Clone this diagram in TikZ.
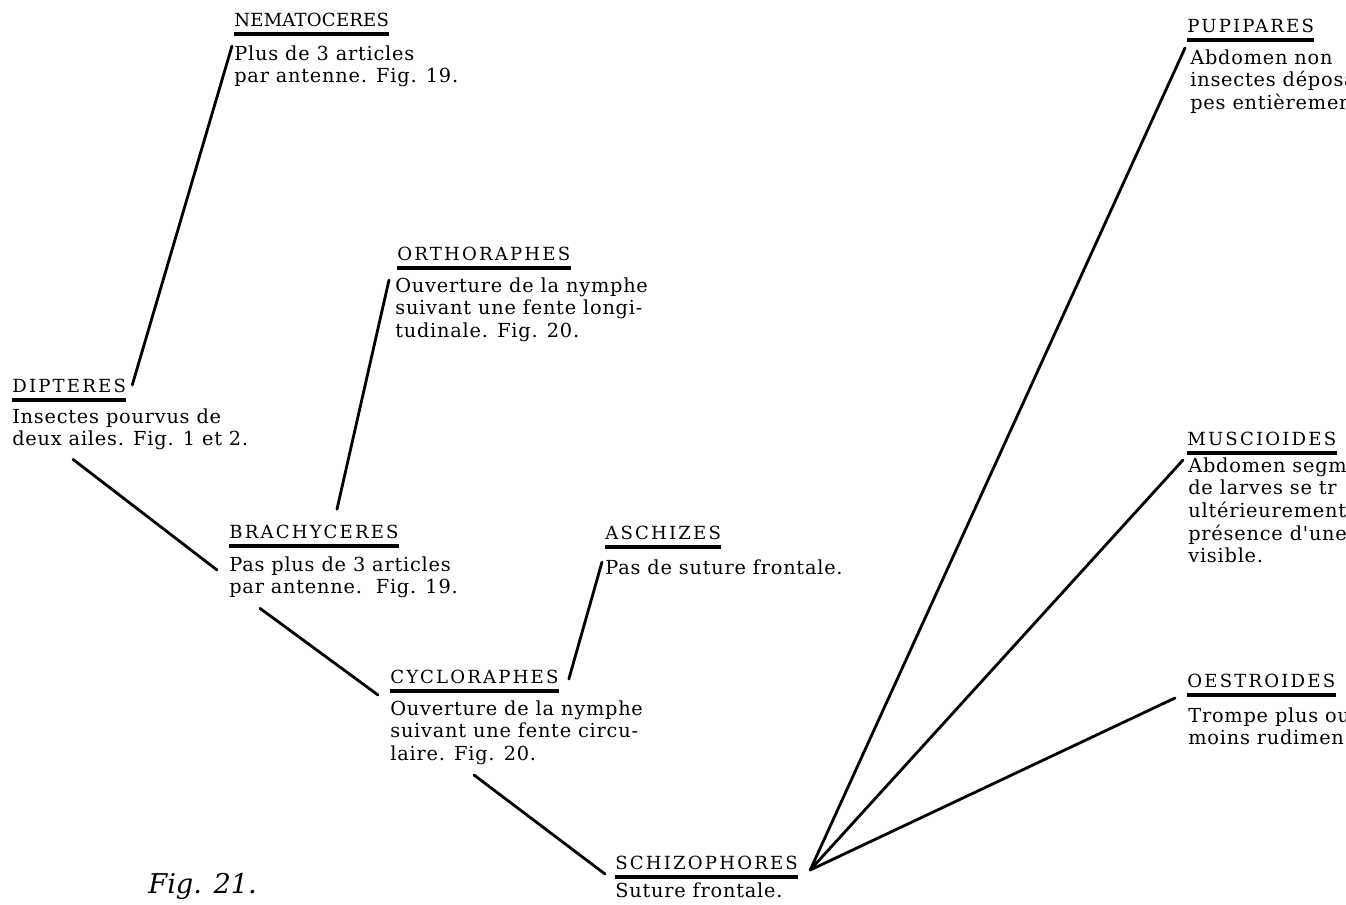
\documentclass[tikz,border=0pt]{standalone}
\usepackage{fontspec}
\setmainfont{DejaVu Serif}
\newfontfamily\titlefont[LetterSpace=12]{DejaVu Serif}
\newfontfamily\descfont[LetterSpace=4]{DejaVu Serif}
\tikzstyle{titre}=[anchor=base west, inner sep=0pt, font=\titlefont\fontsize{10.3}{13}\selectfont]
\tikzstyle{texte}=[anchor=north west, inner sep=0pt, align=left, font=\descfont\fontsize{11}{12.9}\selectfont]
\tikzstyle{souligne}=[line width=1.8pt]
\tikzstyle{branche}=[line width=1.6pt, line cap=round]
\newcommand{\titre}[2]{node (t#1) [titre] {#2}}
\newcommand{\texte}[2]{node (d#1) [texte] {#2}}

\begin{document}
\begin{tikzpicture}[x=0.02cm, y=-0.02cm]
\useasboundingbox (0,0) rectangle (1346,904);
\clip (0,0) rectangle (1346,904);
% Draw diagram elements
\path (234,26)  \titre{nem}{\addfontfeature{LetterSpace=1}NEMATOCERES};
\path (234,45)  \texte{nem}{Plus de 3 articles\\par antenne. Fig. 19.};
\path (397,260) \titre{ort}{ORTHORAPHES};
\path (395,277) \texte{ort}{Ouverture de la nymphe\\suivant une fente longi-\\tudinale. Fig. 20.};
\path (12,392)  \titre{dip}{DIPTERES};
\path (12,408)  \texte{dip}{Insectes pourvus de\\deux ailes. Fig. 1 et 2.};
\path (229,538) \titre{bra}{BRACHYCERES};
\path (229,556) \texte{bra}{Pas plus de 3 articles\\par antenne.\ \ Fig. 19.};
\path (605,539) \titre{asc}{ASCHIZES};
\path (605,559) \texte{asc}{Pas de suture frontale.};
\path (390,683) \titre{cyc}{CYCLORAPHES};
\path (390,700) \texte{cyc}{Ouverture de la nymphe\\suivant une fente circu-\\laire. Fig. 20.};
\path (615,869) \titre{sch}{SCHIZOPHORES};
\path (615,882) \texte{sch}{Suture frontale.};
\path (1187,32) \titre{pup}{PUPIPARES};
\path (1190,49) \texte{pup}{Abdomen non\\insectes déposa\\pes entièremen};
\path (1187,445) \titre{mus}{MUSCIOIDES};
\path (1188,457) \texte{mus}{Abdomen segm\\de larves se tr\\ultérieurement\\présence d'une\\visible.};
\path (1187,687) \titre{oes}{OESTROIDES};
\path (1188,707) \texte{oes}{Trompe plus ou\\moins rudimen};
\node (fig) [anchor=base west, inner sep=0pt, font=\itshape\fontsize{15.5}{18}\selectfont] at (148,893) {Fig. 21.};

% Underline the group names
\foreach \n in {nem,ort,dip,bra,asc,cyc,sch,pup,mus,oes}
  \draw[souligne] ([shift={(0,8)}]t\n.base west) -- ([shift={(0,8)}]t\n.base east);

% Draw lines between elements
\draw[branche] ([shift={(6,-7)}]tdip.base east) -- ([shift={(-2,1)}]dnem.north west);
\draw[branche] ([shift={(61,9)}]ddip.south west) -- ([shift={(-12,14)}]dbra.north west);
\draw[branche] ([shift={(23,-15)}]tbra.north) -- ([shift={(-6,3)}]dort.north west);
\draw[branche] ([shift={(31,10)}]dbra.south west) -- ([shift={(-12,-5)}]dcyc.north west);
\draw[branche] ([shift={(10,-4)}]tcyc.base east) -- ([shift={(-3,3)}]dasc.north west);
\draw[branche] ([shift={(84,10)}]dcyc.south west) -- ([shift={(-10,5)}]tsch.base west);
\draw[branche] ([shift={(12,1)}]tsch.base east) -- ([shift={(-5,-1)}]dpup.north west);
\draw[branche] ([shift={(12,1)}]tsch.base east) -- ([shift={(-5,3)}]dmus.north west);
\draw[branche] ([shift={(12,1)}]tsch.base east) -- ([shift={(-13,-9)}]does.north west);
\end{tikzpicture}
\end{document}
